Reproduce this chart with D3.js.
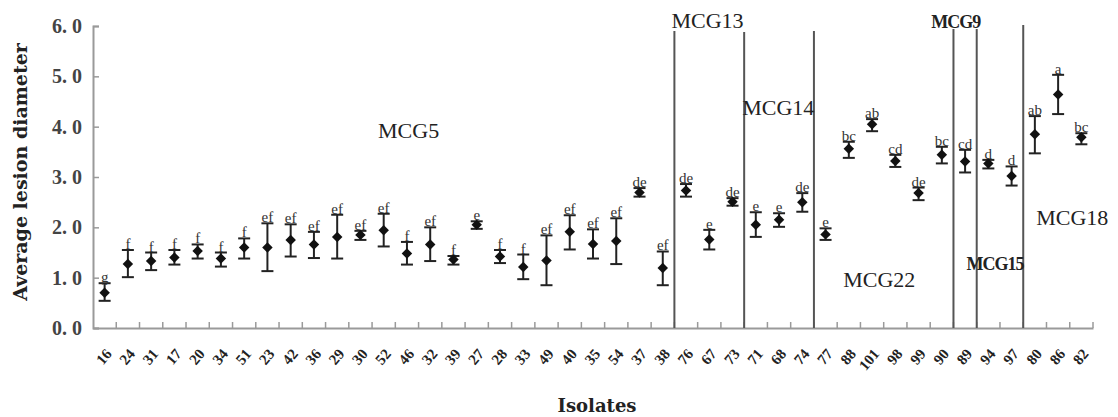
<!DOCTYPE html>
<html>
<head>
<meta charset="utf-8">
<script src="https://cdn.jsdelivr.net/npm/d3@7"></script>
<style>
  body { margin: 0; background: #fff; }
  svg text { fill: #222; }
</style>
</head>
<body>
<svg width="1118" height="417"></svg>
<script>
// isolates along the x axis
var isolates = ["16","24","31","17","20","34","51","23","42","36","29","30","52","46","32","39","27","28","33","49","40","35","54","37","38",
                "76","67","73","71","68","74","77","88","101","98","99","90","89","94","97","80","86","82"];
// mean lesion diameter
var means = [0.70,1.27,1.33,1.40,1.53,1.38,1.60,1.60,1.75,1.66,1.81,1.85,1.94,1.48,1.66,1.36,2.05,1.42,1.21,1.34,1.91,1.67,1.73,2.69,1.19,
             2.73,1.76,2.51,2.05,2.15,2.50,1.86,3.56,4.05,3.32,2.68,3.44,3.31,3.27,3.02,3.85,4.64,3.79];
// error bar top / bottom
var upper = [0.89,1.55,1.50,1.55,1.66,1.50,1.78,2.08,2.06,1.91,2.25,1.93,2.27,1.71,2.00,1.43,2.12,1.55,1.46,1.84,2.24,1.96,2.18,2.78,1.52,
             2.86,1.95,2.58,2.30,2.28,2.68,1.98,3.70,4.15,3.44,2.79,3.60,3.54,3.34,3.21,4.21,5.03,3.87];
var lower = [0.54,1.01,1.15,1.26,1.38,1.22,1.38,1.13,1.42,1.39,1.38,1.75,1.62,1.26,1.33,1.26,1.97,1.29,0.97,0.85,1.56,1.38,1.27,2.61,0.85,
             2.61,1.56,2.43,1.81,2.01,2.31,1.75,3.38,3.91,3.20,2.54,3.27,3.09,3.17,2.83,3.47,4.25,3.65];
// significance letters
var letters = ["g","f","f","f","f","f","f","ef","ef","ef","ef","ef","ef","f","ef","f","e","f","f","ef","ef","ef","ef","de","ef",
               "de","e","de","e","e","de","e","bc","ab","cd","de","bc","cd","d","d","ab","a","bc"];
var yTicks = [0,1,2,3,4,5,6];

// MCG group separators: line drawn at left edge of these isolates, up to value
var breakAt = ["76","71","77","89","94","80"];
var breakTop = [5.9,5.88,5.9,5.94,5.94,6.02];
// MCG group labels: name, isolate, y value, bold
var groupNames = ["MCG5","MCG13","MCG14","MCG22","MCG9","MCG15","MCG18"];
var groupAt = ["52","76","71","88","90","89","80"];
var groupY = [3.78,5.96,4.23,0.81,5.96,1.15,2.05];
var groupBold = [false,false,false,false,true,true,false];

var svg = d3.select("svg"),
    margin = {top: 26, right: 25, bottom: 89, left: 93},
    width = +svg.attr("width") - margin.left - margin.right,
    height = +svg.attr("height") - margin.top - margin.bottom,
    g = svg.append("g").attr("transform", "translate(" + margin.left + "," + margin.top + ")");

var x = d3.scaleBand().domain(isolates).range([0, width]);
var y = d3.scaleLinear().domain([0, 6]).range([height, 0]);
var bw = x.bandwidth();
var cx = function(d) { return x(d) + bw / 2; };

// y axis
var yAxis = d3.axisLeft(y)
    .tickValues(yTicks)
    .tickSize(-6)
    .tickPadding(11)
    .tickFormat(function(d) { return d3.format(".1f")(d).replace(".", ". "); });

var ya = g.append("g").attr("class", "y axis").call(yAxis);
ya.select(".domain").attr("stroke", "#9a9a9a").attr("stroke-width", 2);
ya.selectAll(".tick line").attr("stroke", "#9a9a9a").attr("stroke-width", 1.5);
ya.selectAll(".tick text")
    .style("font-family", "'Liberation Serif', serif")
    .style("font-weight", "bold")
    .style("font-size", "20px")
    .style("fill", "#444");

// x axis (labels drawn below by hand so they can be slanted)
var xa = g.append("g").attr("class", "x axis")
    .attr("transform", "translate(0," + height + ")")
    .call(d3.axisBottom(x).tickSize(0).tickFormat(""));
xa.select(".domain").attr("stroke", "#9a9a9a").attr("stroke-width", 2);

// inward ticks at band edges
xa.selectAll(".edge")
    .data(isolates)
    .enter().append("line")
    .attr("class", "edge")
    .attr("x1", function(d) { return x(d) + bw; })
    .attr("x2", function(d) { return x(d) + bw; })
    .attr("y1", 0)
    .attr("y2", -6)
    .attr("stroke", "#9a9a9a")
    .attr("stroke-width", 1.5);

xa.selectAll(".lbl")
    .data(isolates)
    .enter().append("text")
    .attr("class", "lbl")
    .attr("text-anchor", "end")
    .attr("dy", "0.35em")
    .attr("transform", function(d) { return "translate(" + (cx(d) + 4) + ",23) rotate(-50)"; })
    .style("font-family", "'Liberation Serif', serif")
    .style("font-weight", "bold")
    .style("font-size", "15px")
    .text(function(d) { return d; });

// group separator lines
g.selectAll(".sep")
    .data(breakAt)
    .enter().append("line")
    .attr("class", "sep")
    .attr("x1", function(d) { return x(d); })
    .attr("x2", function(d) { return x(d); })
    .attr("y1", y(0))
    .attr("y2", function(d, i) { return y(breakTop[i]); })
    .attr("stroke", "#555")
    .attr("stroke-width", 2);

// error bars
var eb = g.selectAll(".err")
    .data(isolates)
    .enter().append("g")
    .attr("class", "err");

eb.append("line")
    .attr("x1", cx).attr("x2", cx)
    .attr("y1", function(d, i) { return y(upper[i]); })
    .attr("y2", function(d, i) { return y(lower[i]); })
    .attr("stroke", "#222").attr("stroke-width", 2);
eb.append("line")
    .attr("x1", function(d) { return cx(d) - 6; })
    .attr("x2", function(d) { return cx(d) + 6; })
    .attr("y1", function(d, i) { return y(upper[i]); })
    .attr("y2", function(d, i) { return y(upper[i]); })
    .attr("stroke", "#222").attr("stroke-width", 2);
eb.append("line")
    .attr("x1", function(d) { return cx(d) - 6; })
    .attr("x2", function(d) { return cx(d) + 6; })
    .attr("y1", function(d, i) { return y(lower[i]); })
    .attr("y2", function(d, i) { return y(lower[i]); })
    .attr("stroke", "#222").attr("stroke-width", 2);

// mean markers
g.selectAll(".pt")
    .data(isolates)
    .enter().append("path")
    .attr("class", "pt")
    .attr("d", d3.symbol().type(d3.symbolDiamond2).size(70))
    .attr("transform", function(d, i) { return "translate(" + cx(d) + "," + y(means[i]) + ")"; })
    .attr("fill", "#111");

// letters
g.selectAll(".lt")
    .data(isolates)
    .enter().append("text")
    .attr("class", "lt")
    .attr("x", cx)
    .attr("y", function(d, i) { return y(upper[i]) - 1; })
    .attr("text-anchor", "middle")
    .style("font-family", "'Liberation Serif', serif")
    .style("font-size", "15px")
    .style("fill", "#333")
    .text(function(d, i) { return letters[i]; });

// group labels
g.selectAll(".grp")
    .data(groupNames)
    .enter().append("text")
    .attr("class", "grp")
    .attr("x", function(d, i) {
        var off = [6, -3, -2, 6, 1, 13, 13][i];
        return x(groupAt[i]) + off;
    })
    .attr("y", function(d, i) { return y(groupY[i]); })
    .style("font-family", "'Liberation Serif', serif")
    .style("font-size", function(d, i) { return groupBold[i] ? "18px" : "22px"; })
    .style("font-weight", function(d, i) { return groupBold[i] ? "bold" : "normal"; })
    .style("letter-spacing", function(d, i) { return groupBold[i] ? "-1px" : "0px"; })
    .text(function(d) { return d; });

// axis titles
svg.append("text")
    .attr("x", 597)
    .attr("y", 412)
    .attr("text-anchor", "middle")
    .style("font-family", "'DejaVu Serif', serif")
    .style("font-weight", "bold")
    .style("font-size", "18px")
    .text("Isolates");

svg.append("text")
    .attr("transform", "translate(27,172)rotate(-90)")
    .attr("text-anchor", "middle")
    .style("font-family", "'DejaVu Serif', serif")
    .style("font-weight", "bold")
    .style("font-size", "19px")
    .text("Average lesion diameter");
</script>
</body>
</html>
